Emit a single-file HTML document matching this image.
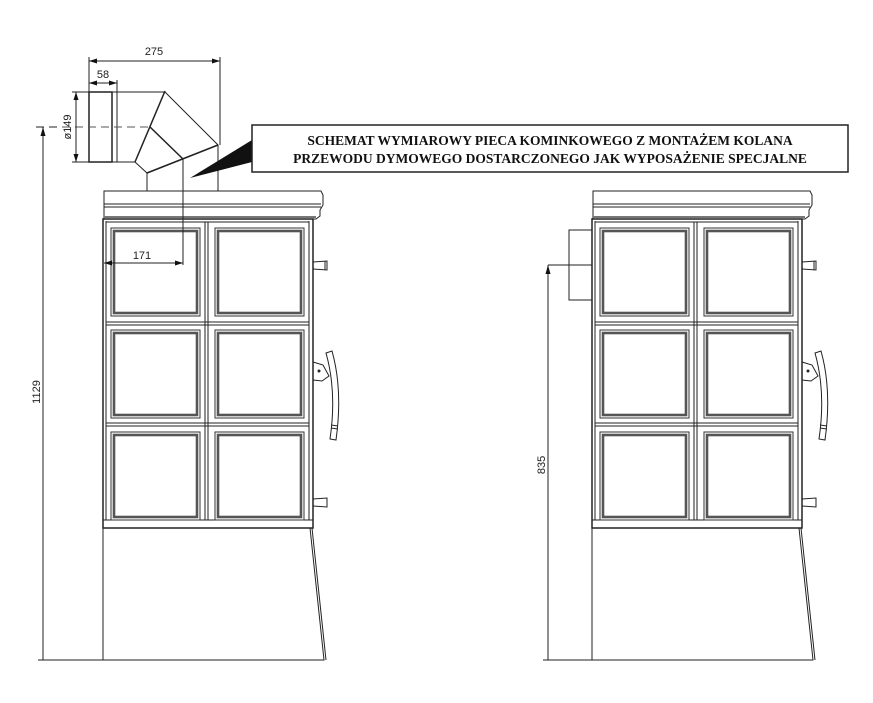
<!DOCTYPE html>
<html><head><style>html,body{margin:0;padding:0;background:#fff}svg{display:block}</style></head>
<body>
<svg width="873" height="703" viewBox="0 0 873 703" xmlns="http://www.w3.org/2000/svg" font-family="Liberation Sans, sans-serif">
<defs>
<g id="stove" fill="none" stroke="#222" stroke-width="1">
  <path d="M104 191 H321 L323 195 V205 L320 210 V216 L316 219 H104 Z" stroke-width="1"/>
  <line x1="104" y1="204" x2="321" y2="204"/>
  <line x1="104" y1="207" x2="321" y2="207"/>
  <line x1="104" y1="217" x2="316" y2="217" stroke="#777" stroke-width="2"/>
  <rect x="103" y="219" width="210" height="309" stroke-width="1.5"/>
  <line x1="106" y1="221" x2="106" y2="520"/>
  <line x1="309" y1="221" x2="309" y2="520"/>
  <line x1="106" y1="222" x2="309" y2="222"/>
  <line x1="205" y1="222" x2="205" y2="520"/>
  <line x1="208" y1="222" x2="208" y2="520"/>
  <line x1="106" y1="322" x2="309" y2="322"/>
  <line x1="106" y1="325" x2="309" y2="325"/>
  <line x1="106" y1="423" x2="309" y2="423"/>
  <line x1="106" y1="426" x2="309" y2="426"/>
  <line x1="103" y1="520" x2="313" y2="520"/>
  <g stroke="#333" stroke-width="1">
    <rect x="111" y="228" width="89" height="88"/><rect x="114" y="231" width="83" height="82" stroke="#555" stroke-width="2.6"/>
    <rect x="215" y="228" width="89" height="88"/><rect x="218" y="231" width="83" height="82" stroke="#555" stroke-width="2.6"/>
    <rect x="111" y="330" width="89" height="88"/><rect x="114" y="333" width="83" height="82" stroke="#555" stroke-width="2.6"/>
    <rect x="215" y="330" width="89" height="88"/><rect x="218" y="333" width="83" height="82" stroke="#555" stroke-width="2.6"/>
    <rect x="111" y="432" width="89" height="88"/><rect x="114" y="435" width="83" height="82" stroke="#555" stroke-width="2.6"/>
    <rect x="215" y="432" width="89" height="88"/><rect x="218" y="435" width="83" height="82" stroke="#555" stroke-width="2.6"/>
  </g>
  <path d="M103 528 V660 H324 L310 528"/>
  <line x1="312" y1="528" x2="326" y2="660"/>
  <path d="M313 262 L327 261 V270 L313 269"/>
  <line x1="325" y1="261" x2="325" y2="270"/>
  <path d="M313 499 L327 498 V507 L313 506"/>
  <path d="M313 362 L323 365 L329 376 L322 381 L313 380"/>
  <circle cx="319" cy="371" r="1" fill="#333"/>
  <path d="M326 353 L332 351 Q343 390 336 440 L330 439 Q337 392 326 353 Z"/>
  <line x1="331" y1="425" x2="338" y2="426"/>
  <line x1="331" y1="428" x2="338" y2="429"/>
</g>
</defs>

<use href="#stove"/>
<use href="#stove" x="489"/>

<g fill="none" stroke="#222" stroke-width="1">
  <rect x="89" y="92" width="23" height="70" stroke-width="1.5"/>
  <path d="M112 92 H117 V162 H112"/>
  <path d="M117 92 H165 L218 145 L147 173 L135 162 H117"/>
  <line x1="165" y1="91" x2="135" y2="162" stroke-width="1.5"/>
  <line x1="150" y1="127" x2="183" y2="159" stroke-width="1.5"/>
  <line x1="147" y1="173" x2="218" y2="145" stroke-width="1.5"/>
  <line x1="147" y1="173" x2="147" y2="191"/>
  <line x1="218" y1="145" x2="218" y2="191"/>
  <line x1="183" y1="159" x2="183" y2="265"/>
  <line x1="62" y1="127" x2="150" y2="127" stroke-dasharray="8,5" stroke="#555"/>
  <line x1="89" y1="57" x2="89" y2="92"/>
  <line x1="220" y1="57" x2="220" y2="145"/>
  <line x1="89" y1="61" x2="220" y2="61"/>
  <line x1="117" y1="80" x2="117" y2="92"/>
  <line x1="89" y1="83" x2="117" y2="83"/>
  <line x1="72" y1="92" x2="89" y2="92"/>
  <line x1="72" y1="162" x2="89" y2="162"/>
  <line x1="76" y1="92" x2="76" y2="162"/>
  <line x1="104" y1="263" x2="183" y2="263"/>
  <line x1="43" y1="127" x2="43" y2="660"/>
  <line x1="36" y1="127" x2="60" y2="127" stroke-dasharray="8,5"/>
  <line x1="38" y1="660" x2="103" y2="660"/>
  <line x1="548" y1="265" x2="548" y2="660"/>
  <line x1="548" y1="265" x2="592" y2="265"/>
  <line x1="543" y1="660" x2="592" y2="660"/>
  <path d="M592 230 H569 V300 H592"/>
</g>
<g fill="#111">
  <path d="M89 61 l8 -2.5 v5z"/><path d="M220 61 l-8 -2.5 v5z"/>
  <path d="M89 83 l8 -2.5 v5z"/><path d="M117 83 l-8 -2.5 v5z"/>
  <path d="M76 92 l-2.5 8 h5z"/><path d="M76 162 l-2.5 -8 h5z"/>
  <path d="M104 263 l8 -2.5 v5z"/><path d="M183 263 l-8 -2.5 v5z"/>
  <path d="M43 127 l-2.5 9 h5z"/>
  <path d="M548 265 l-2.5 9 h5z"/>
  <path d="M252 140 L190 178 L252 162 Z"/>
</g>
<g font-size="11" fill="#222">
  <text x="154" y="55" text-anchor="middle">275</text>
  <text x="103" y="78" text-anchor="middle">58</text>
  <text x="142" y="259" text-anchor="middle">171</text>
  <text transform="translate(71,127) rotate(-90)" text-anchor="middle">ø149</text>
  <text transform="translate(40,392) rotate(-90)" text-anchor="middle">1129</text>
  <text transform="translate(545,465) rotate(-90)" text-anchor="middle">835</text>
</g>
<rect x="252" y="125" width="596" height="47" fill="#fff" stroke="#222" stroke-width="1.5"/>
<g font-family="Liberation Serif, serif" font-weight="bold" font-size="13.5" fill="#111" text-anchor="middle">
  <text x="550" y="145">SCHEMAT WYMIAROWY PIECA KOMINKOWEGO Z MONTAŻEM KOLANA</text>
  <text x="550" y="163">PRZEWODU DYMOWEGO DOSTARCZONEGO JAK WYPOSAŻENIE SPECJALNE</text>
</g>
</svg>
</body></html>
